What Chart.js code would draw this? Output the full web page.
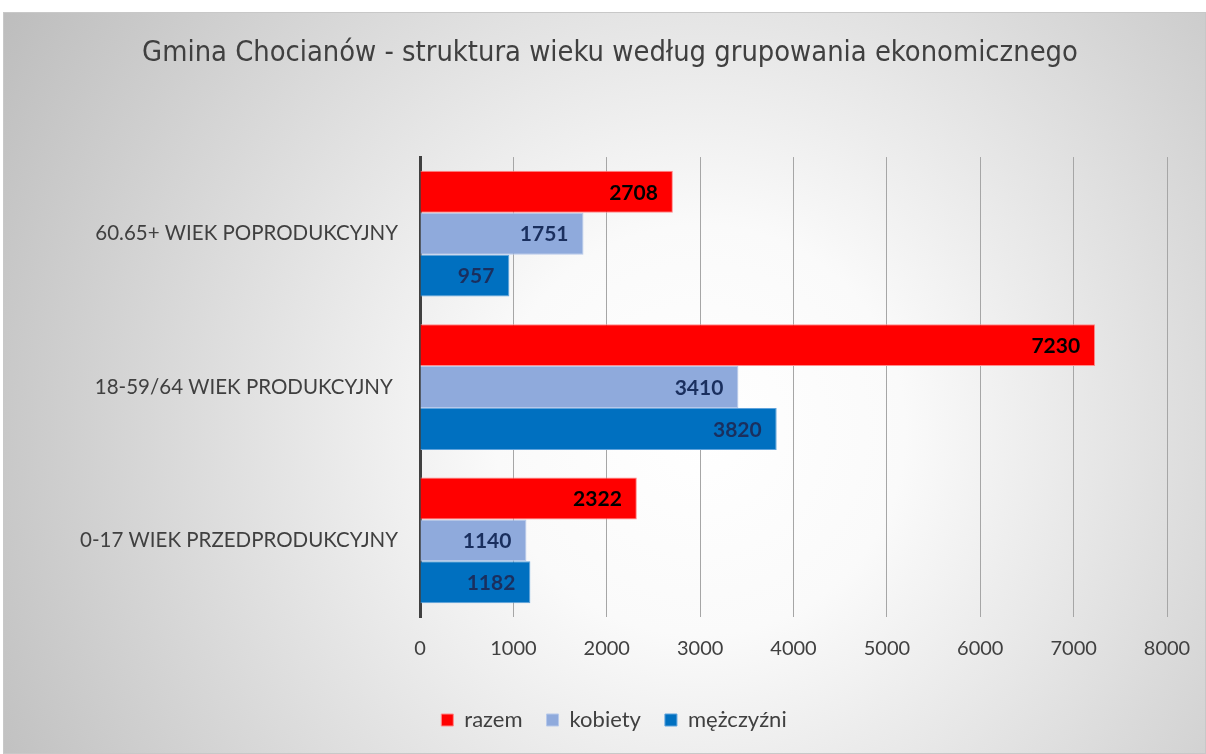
<!DOCTYPE html>
<html>
<head>
<meta charset="utf-8">
<script src="https://cdn.jsdelivr.net/npm/chart.js@4.4.0/dist/chart.umd.min.js"></script>
<style>
  html, body { margin: 0; padding: 0; background: #fff; }
  #wrap { width: 1206px; height: 754px; }
</style>
</head>
<body>
<div id="wrap"><canvas id="chart" width="1206" height="754"></canvas></div>
<script>
// Dane
const categories = [
  "60.65+ WIEK POPRODUKCYJNY",
  "18-59/64 WIEK PRODUKCYJNY ",
  "0-17 WIEK PRZEDPRODUKCYJNY"
];
const razem = [2708, 7230, 2322];
const kobiety = [1751, 3410, 1140];
const mezczyzni = [957, 3820, 1182];
const xTicks = [0, 1000, 2000, 3000, 4000, 5000, 6000, 7000, 8000];

// Tło z gradientem (jak w Excelu)
const backgroundPlugin = {
  id: "bg",
  beforeDraw(chart) {
    const ctx = chart.ctx;
    ctx.save();
    ctx.fillStyle = "#ffffff";
    ctx.fillRect(0, 0, chart.width, chart.height);
    const g = ctx.createRadialGradient(700, 430, 0, 700, 430, 820);
    g.addColorStop(0, "#ffffff");
    g.addColorStop(0.25, "#fafafa");
    g.addColorStop(1, "#bcbcbc");
    ctx.fillStyle = g;
    ctx.fillRect(3, 12, chart.width - 3, chart.height - 12);
    ctx.strokeStyle = "#c8c8c8";
    ctx.lineWidth = 1;
    ctx.strokeRect(3.5, 12.5, chart.width - 4, chart.height - 13);
    ctx.restore();
  }
};

// Tytuł i legenda są wyśrodkowane na całej szerokości, nie na obszarze wykresu
const shiftBoxes = {
  id: "shiftBoxes",
  afterLayout(chart) {
    chart.titleBlock.left += 25;
    chart.titleBlock.right += 25;
    chart.legend.left += 29;
    chart.legend.right += 29;
  }
};

// Etykiety wartości na końcu słupków
const valueLabels = {
  id: "valueLabels",
  afterDatasetsDraw(chart) {
    const ctx = chart.ctx;
    ctx.save();
    ctx.font = "bold 21px Lato, 'Open Sans', sans-serif";
    ctx.textAlign = "right";
    ctx.textBaseline = "middle";
    chart.data.datasets.forEach((ds, i) => {
      const meta = chart.getDatasetMeta(i);
      meta.data.forEach((bar, j) => {
        ctx.fillStyle = i === 0 ? "#000000" : "#1a2f5e";
        ctx.fillText(String(ds.data[j]), bar.x - 15, bar.y + 1);
      });
    });
    ctx.restore();
  }
};

const ctx = document.getElementById("chart").getContext("2d");
const chart = new Chart(ctx, {
  type: "bar",
  data: {
    labels: categories,
    datasets: [
      {
        label: "razem",
        data: razem,
        backgroundColor: "#ff0000",
        borderColor: "#ff8a8a",
        borderWidth: 1,
      },
      {
        label: "kobiety",
        data: kobiety,
        backgroundColor: "#8faadc",
        borderColor: "#b7c9ea",
        borderWidth: 1,
      },
      {
        label: "mężczyźni",
        data: mezczyzni,
        backgroundColor: "#0070c0",
        borderColor: "#5fa3dc",
        borderWidth: 1,
      },
    ],
  },
  options: {
    indexAxis: "y",
    responsive: false,
    animation: false,
    categoryPercentage: 0.82,
    barPercentage: 1.0,
    layout: { padding: { left: 3, right: 39, top: 12, bottom: 13 } },
    scales: {
      x: {
        min: 0,
        max: 8000,
        afterBuildTicks: (scale) => {
          scale.ticks = xTicks.map((v) => ({ value: v }));
        },
        afterFit: (scale) => {
          scale.height = 68;
          scale.paddingRight = 0;
        },
        grid: {
          color: "#a6a6a6",
          lineWidth: 1,
          drawTicks: false,
        },
        border: { display: false },
        ticks: {
          padding: 20,
          color: "#404040",
          font: { family: "Lato, 'Open Sans', sans-serif", size: 20 },
          callback: (v) => String(v),
        },
      },
      y: {
        afterFit: (scale) => {
          scale.width = 417;
        },
        grid: { display: false, drawTicks: false },
        border: { display: true, color: "#404040", width: 3 },
        ticks: {
          padding: 22,
          color: "#404040",
          font: { family: "Lato, 'Open Sans', sans-serif", size: 20.5 },
        },
      },
    },
    plugins: {
      title: {
        display: true,
        text: "Gmina Chocianów - struktura wieku według grupowania ekonomicznego",
        color: "#404040",
        font: { family: "'DejaVu Sans Condensed', 'DejaVu Sans', sans-serif", size: 28.8, weight: "normal" },
        padding: { top: 24, bottom: 86.5 },
      },
      legend: {
        position: "bottom",
        labels: {
          color: "#404040",
          boxWidth: 12,
          boxHeight: 12,
          padding: 24,
          font: { family: "Lato, 'Open Sans', sans-serif", size: 22 },
        },
      },
      tooltip: { enabled: false },
    },
  },
  plugins: [backgroundPlugin, shiftBoxes, valueLabels],
});
</script>
</body>
</html>
